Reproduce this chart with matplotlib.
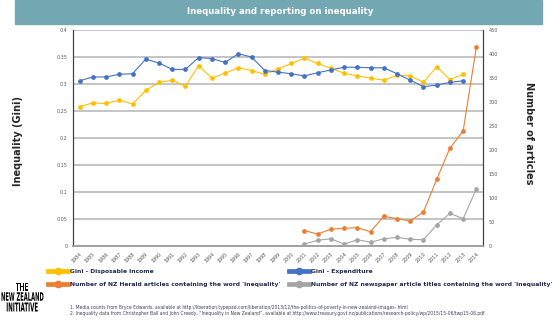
import matplotlib
matplotlib.use("Agg")
import matplotlib.pyplot as plt
from matplotlib.lines import Line2D
from matplotlib.textpath import TextPath
from matplotlib.patches import PathPatch
from matplotlib.font_manager import FontProperties
from matplotlib.transforms import Affine2D
import numpy as np

years = list(range(1984, 2015))

# Gini - Disposable Income, 1984-2013
gini_disposable = [0.258, 0.265, 0.264, 0.270, 0.263, 0.288, 0.303, 0.307, 0.296, 0.334,
                   0.311, 0.320, 0.330, 0.325, 0.318, 0.328, 0.338, 0.348, 0.338, 0.329,
                   0.320, 0.315, 0.311, 0.307, 0.316, 0.315, 0.303, 0.332, 0.308, 0.318]
# Gini - Expenditure, 1984-2013
gini_expenditure = [0.306, 0.313, 0.313, 0.318, 0.319, 0.346, 0.339, 0.327, 0.327, 0.349,
                    0.347, 0.340, 0.356, 0.350, 0.325, 0.322, 0.319, 0.315, 0.321, 0.326,
                    0.331, 0.331, 0.330, 0.330, 0.319, 0.307, 0.295, 0.298, 0.303, 0.306]
# article counts, 2001-2014
article_years = list(range(2001, 2015))
herald_articles = [32, 25, 35, 37, 38, 30, 62, 57, 52, 71, 139, 204, 240, 415]
title_articles = [4, 12, 15, 4, 13, 8, 15, 18, 14, 13, 44, 68, 57, 119]

labels = ["Gini - Disposable Income", "Gini - Expenditure",
          "Number of NZ Herald articles containing the word 'inequality'",
          "Number of NZ newspaper article titles containing the word 'inequality'"]
colors = ["#FFC000", "#4472C4", "#ED7D31", "#A5A5A5"]

footnotes = [
    "1. Media counts from Bryce Edwards, available at "
    "http://liberation.typepad.com/liberation/2013/12/the-politics-of-poverty-in-new-zealand-images-.html",
    "2. Inequality data from Christopher Ball and John Creedy, \u201cInequality in New Zealand\u201d, available at "
    "http://www.treasury.govt.nz/publications/research-policy/wp/2015/15-06/twp15-06.pdf",
]

W, H = 560, 321
fig = plt.figure(figsize=(W / 100, H / 100), dpi=100)

# title bar
fig.patches.append(plt.Rectangle((15 / W, 1 - 24 / H), 527 / W, 24 / H,
                                 transform=fig.transFigure, color="#73A7B1", zorder=0))
fig.text(280 / W, 1 - 12 / H, "Inequality and reporting on inequality", color="white",
         fontsize=6.2, fontweight="bold", ha="center", va="center")

ax = fig.add_axes([73 / W, 75 / H, 410 / W, 216 / H])
ax2 = ax.twinx()

grid_col = "#BFBFBF"
ax.set_ylim(0, 0.4)
ax.set_yticks(np.arange(0, 0.401, 0.05))
ax.set_yticklabels(["0", "0.05", "0.1", "0.15", "0.2", "0.25", "0.3", "0.35", "0.4"])
ax.yaxis.grid(True, color=grid_col, lw=1.3)
ax.set_axisbelow(True)
ax2.set_ylim(0, 450)
ax2.set_yticks(range(0, 451, 50))
ax.set_xlim(1983.5, 2014.5)
ax.set_xticks(years)
ax.set_xticklabels([str(y) for y in years], rotation=45, ha="right", rotation_mode="anchor")

for a in (ax, ax2):
    a.tick_params(length=0, labelsize=3.5, colors="#595959", pad=4)
    a.spines["top"].set_visible(False)
    a.spines["left"].set_color("#404040")
    a.spines["right"].set_color("#404040")
    a.spines["bottom"].set_color("#A0A0A0")
    a.spines["bottom"].set_linewidth(1.2)

mk = dict(marker="o", markersize=2.4, lw=0.8, zorder=3)
ax.plot(years[:len(gini_disposable)], gini_disposable, color=colors[0], **mk)
ax.plot(years[:len(gini_expenditure)], gini_expenditure, color=colors[1], **mk)
ax2.plot(article_years, herald_articles, color=colors[2], **mk)
ax2.plot(article_years, title_articles, color=colors[3], **mk)

ax.set_ylabel("Inequality (Gini)", fontsize=7, fontweight="bold", color="#262626")
ax.yaxis.set_label_coords(-0.122, 0.486)
ax2.set_ylabel("Number of articles", fontsize=7, fontweight="bold", color="#262626",
               rotation=270, va="bottom")
ax2.yaxis.set_label_coords(1.10, 0.52)

# legend: two columns, placed separately
handles = [Line2D([], [], color=c, lw=3.4, marker="o", markersize=4.5) for c in colors]
leg_kw = dict(loc="upper left", frameon=False, prop=dict(size=4.3, weight="bold"),
              labelcolor="#1F2A4D", handlelength=3.4, handletextpad=0.35,
              labelspacing=1.3, borderpad=0, borderaxespad=0)
leg1 = fig.legend([handles[0], handles[2]], [labels[0], labels[2]],
                  bbox_to_anchor=(48 / W, 1 - 269 / H), **leg_kw)
leg2 = fig.legend([handles[1], handles[3]], [labels[1], labels[3]],
                  bbox_to_anchor=(289 / W, 1 - 269 / H), **leg_kw)

# logo, drawn as stretched text paths
fp = FontProperties(family="DejaVu Sans", weight="bold")
logo_lines = [("THE", 22, 286.5, 12, 8), ("NEW ZEALAND", 22.5, 296.5, 42, 8.5),
              ("INITIATIVE", 22.2, 307, 31, 9)]
for txt, cx, cy, w, h in logo_lines:
    tp = TextPath((0, 0), txt, size=10, prop=fp)
    bb = tp.get_extents()
    tr = (Affine2D().translate(-bb.x0 - bb.width / 2, -bb.y0 - bb.height / 2)
          .scale(w / bb.width / W, h / bb.height / H)
          .translate(cx / W, 1 - cy / H))
    fig.add_artist(PathPatch(tp, transform=tr + fig.transFigure, color="black", lw=0))

for i, t in enumerate(footnotes):
    fig.text(70 / W, 1 - (307 + 6 * i) / H, t, fontsize=3.25, color="#404060", va="center")

fig.savefig("out.png", dpi=100)
